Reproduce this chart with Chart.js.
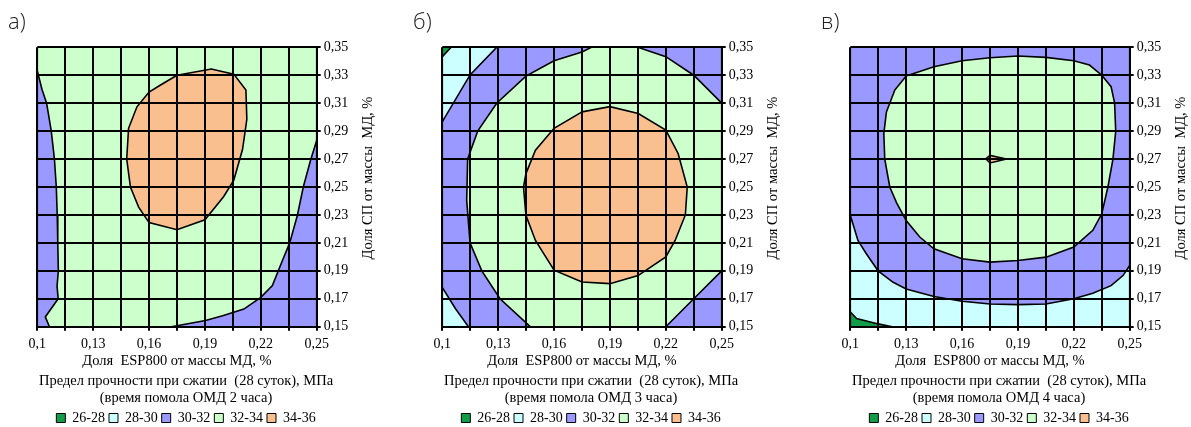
<!DOCTYPE html>
<html>
<head>
<meta charset="utf-8">
<script src="https://cdn.jsdelivr.net/npm/chart.js@4/dist/chart.umd.min.js"></script>
<style>
  html, body { margin: 0; padding: 0; background: #fff; }
  body { width: 1191px; height: 427px; position: relative; overflow: hidden; }
  .panel { position: absolute; top: 0; width: 378px; height: 427px; }
</style>
</head>
<body>
<div class="panel" style="left:0px"><canvas id="c0" width="378" height="427"></canvas></div>
<div class="panel" style="left:405px"><canvas id="c1" width="378" height="427"></canvas></div>
<div class="panel" style="left:813px"><canvas id="c2" width="378" height="427"></canvas></div>
<script>
// Strength bands (MPa) and their fill colours
const bands = ['26-28', '28-30', '30-32', '32-34', '34-36'];
const bandColors = ['#119c48', '#ccffff', '#9999ff', '#ccffcc', '#f9bf8f'];

// Axis ticks: ESP800 share (x) and SP share (y), % of binder mass
const xTickValues = [0.1, 0.115, 0.13, 0.145, 0.16, 0.175, 0.19, 0.205, 0.22, 0.235, 0.25];
const xTickLabels = ['0,1', '', '0,13', '', '0,16', '', '0,19', '', '0,22', '', '0,25'];
const yTickValues = [0.15, 0.17, 0.19, 0.21, 0.23, 0.25, 0.27, 0.29, 0.31, 0.33, 0.35];
const yTickLabels = ['0,15', '0,17', '0,19', '0,21', '0,23', '0,25', '0,27', '0,29', '0,31', '0,33', '0,35'];

// Whole plotting domain
const frame = [[0.1, 0.15], [0.1, 0.35], [0.25, 0.35], [0.25, 0.15]];

// Grinding 2 h: contour regions [ESP800, SP]
const a_left30 = [[0.1, 0.333], [0.1025, 0.32], [0.105, 0.31], [0.1075, 0.29], [0.1092, 0.27], [0.1102, 0.25],
  [0.1107, 0.23], [0.111, 0.21], [0.1113, 0.19], [0.1106, 0.179], [0.1112, 0.17], [0.1043, 0.157],
  [0.1065, 0.15], [0.1, 0.15]];
const a_right30 = [[0.172, 0.15], [0.1903, 0.1544], [0.1995, 0.1578], [0.2109, 0.1626], [0.22, 0.171],
  [0.2262, 0.1794], [0.2316, 0.1974], [0.2355, 0.21], [0.2396, 0.2296], [0.2428, 0.25], [0.2467, 0.2692],
  [0.25, 0.2834], [0.25, 0.15]];
const a_core34 = [[0.175, 0.33], [0.1934, 0.3345], [0.2055, 0.3308], [0.212, 0.3195], [0.2125, 0.2985],
  [0.2102, 0.277], [0.2055, 0.2548], [0.2, 0.243], [0.19, 0.2265], [0.175, 0.2194], [0.16, 0.2245],
  [0.1544, 0.2356], [0.15, 0.25], [0.148, 0.27], [0.149, 0.292], [0.1535, 0.3074], [0.16, 0.318], [0.1655, 0.3225]];

// Grinding 3 h
const b_corner28 = [[0.1, 0.35], [0.1292, 0.35], [0.1149, 0.3302], [0.1, 0.2967]];
const b_corner26 = [[0.1, 0.35], [0.1047, 0.35], [0.1, 0.3432]];
const b_foot28 = [[0.1, 0.15], [0.1, 0.178], [0.107, 0.163], [0.114, 0.15]];
const b_ring32 = [[0.175, 0.3466], [0.18, 0.35], [0.205, 0.35], [0.22, 0.3433], [0.235, 0.33], [0.25, 0.31],
  [0.25, 0.19], [0.235, 0.17], [0.22, 0.15], [0.1472, 0.15], [0.131, 0.17], [0.1212, 0.19], [0.1149, 0.21],
  [0.1131, 0.2404], [0.1136, 0.27], [0.119, 0.29], [0.1292, 0.31], [0.1449, 0.3294], [0.16, 0.3404]];
const b_core34 = [[0.175, 0.3038], [0.19, 0.3075], [0.2052, 0.3026], [0.22, 0.2907], [0.2266, 0.274],
  [0.2315, 0.25], [0.2305, 0.23], [0.225, 0.2117], [0.22, 0.2], [0.2051, 0.1866], [0.19, 0.1808],
  [0.175, 0.182], [0.16, 0.1905], [0.15, 0.2117], [0.1449, 0.2297], [0.1436, 0.25], [0.1449, 0.2596],
  [0.15, 0.2763], [0.16, 0.292]];

// Grinding 4 h
const c_foot28 = [[0.1, 0.15], [0.1, 0.2297], [0.1041, 0.2117], [0.1086, 0.2022], [0.1149, 0.19], [0.123, 0.1818],
  [0.13, 0.177], [0.1449, 0.1716], [0.16, 0.1682], [0.175, 0.1662], [0.19, 0.1658], [0.205, 0.1662],
  [0.22, 0.17], [0.2302, 0.174], [0.24, 0.1794], [0.2464, 0.1866], [0.25, 0.1938], [0.25, 0.15]];
const c_corner26 = [[0.1, 0.15], [0.1, 0.1605], [0.1034, 0.1558], [0.115, 0.152], [0.1222, 0.15]];
const c_core32 = [[0.13, 0.3294], [0.1449, 0.3361], [0.16, 0.3404], [0.175, 0.3425], [0.19, 0.3438], [0.205, 0.3428],
  [0.22, 0.3404], [0.2284, 0.3373], [0.235, 0.33], [0.24, 0.3218], [0.2419, 0.31], [0.2425, 0.29], [0.241, 0.27],
  [0.2383, 0.25], [0.235, 0.2308], [0.2302, 0.219], [0.22, 0.207], [0.2051, 0.1998], [0.19, 0.1974],
  [0.175, 0.1962], [0.16, 0.1986], [0.1449, 0.2058], [0.1373, 0.2142], [0.13, 0.226], [0.1248, 0.2388],
  [0.1212, 0.25], [0.1185, 0.27], [0.118, 0.2883], [0.1194, 0.3038], [0.1239, 0.3194]];
const c_peak34 = [[0.1727, 0.2702], [0.175, 0.2726], [0.1838, 0.27], [0.175, 0.2672]];

const panelLetters = ['а)', 'б)', 'в)'];
const grindHours = ['2 часа', '3 часа', '4 часа'];
// Regions listed bottom layer first: [band index, polygon]
const panelLayers = [
  [[3, frame], [2, a_left30], [2, a_right30], [4, a_core34]],
  [[2, frame], [1, b_corner28], [0, b_corner26], [1, b_foot28], [3, b_ring32], [4, b_core34]],
  [[2, frame], [1, c_foot28], [0, c_corner26], [3, c_core32], [4, c_peak34]]
];

const SERIF = "'Liberation Serif', 'Times New Roman', serif";

// Rotated title beside the right-hand axis, reading bottom to top
const sideTitle = {
  id: 'sideTitle',
  afterDraw(chart, args, opts) {
    const { ctx, chartArea } = chart;
    ctx.save();
    ctx.font = opts.font;
    ctx.fillStyle = '#000';
    ctx.textAlign = 'center';
    ctx.textBaseline = 'middle';
    ctx.translate(chartArea.right + opts.offset, (chartArea.top + chartArea.bottom) / 2 + opts.shift);
    ctx.rotate(-Math.PI / 2);
    ctx.fillText(opts.text, 0, 0);
    ctx.restore();
  }
};

function closed(poly) {
  const pts = poly.map(([x, y]) => ({ x, y }));
  pts.push({ x: poly[0][0], y: poly[0][1] });
  return pts;
}

panelLayers.forEach((layers, p) => {
  const n = layers.length;
  const datasets = layers.map(([band, poly], i) => ({
    label: bands[band],
    data: closed(poly),
    xAxisID: 'x',
    yAxisID: 'y',
    showLine: true,
    fill: 'shape',
    backgroundColor: bandColors[band],
    borderColor: '#000',
    borderWidth: 1.6,
    pointRadius: 0,
    tension: 0,
    order: n - i
  }));

  const gridStyle = { color: '#000', lineWidth: 2, tickLength: 4, tickColor: '#000', tickWidth: 2, z: 1 };

  new Chart(document.getElementById('c' + p), {
    type: 'scatter',
    data: { datasets },
    plugins: [sideTitle],
    options: {
      responsive: false,
      animation: false,
      events: [],
      layout: { padding: { left: 8, right: 14, top: 0, bottom: -8 } },
      scales: {
        x: {
          type: 'linear',
          min: 0.1, max: 0.25,
          afterBuildTicks: s => { s.ticks = xTickValues.map(v => ({ value: v })); },
          afterFit: s => { s.height = 43; },
          grid: gridStyle,
          border: { display: true, color: '#000', width: 2, z: 2 },
          ticks: {
            autoSkip: false, maxRotation: 0, padding: 5, color: '#000', z: 2,
            font: { family: SERIF, size: 14 },
            callback: (v, i) => xTickLabels[i]
          },
          title: {
            display: true, text: 'Доля  ESP800 от массы МД, %', color: '#000',
            font: { family: SERIF, size: 14.5, lineHeight: 1.2 }, padding: { top: 0, bottom: 0 }
          }
        },
        y: {
          type: 'linear',
          position: 'right',
          min: 0.15, max: 0.35,
          afterBuildTicks: s => { s.ticks = yTickValues.map(v => ({ value: v })); },
          afterFit: s => { s.width = 47.3; },
          grid: gridStyle,
          border: { display: true, color: '#000', width: 2, z: 2 },
          ticks: {
            autoSkip: false, padding: 3, color: '#000', z: 2,
            font: { family: SERIF, size: 14 },
            callback: (v, i) => yTickLabels[i]
          }
        },
        yl: {
          position: 'left',
          display: true,
          grid: { display: false },
          border: { display: false },
          ticks: { display: false },
          afterFit: s => { s.width = 29.3; }
        }
      },
      plugins: {
        tooltip: { enabled: false },
        subtitle: {
          display: true, position: 'top', align: 'start', text: panelLetters[p], color: '#222',
          font: { family: "'Open Sans', 'DejaVu Sans', sans-serif", size: 22, weight: '300', lineHeight: 1.2 },
          padding: { top: 10, bottom: 10.9 }
        },
        title: {
          display: true, position: 'bottom', weight: 10, color: '#000',
          text: ['Предел прочности при сжатии  (28 суток), МПа', '(время помола ОМД ' + grindHours[p] + ')'],
          font: { family: SERIF, size: 14.5, weight: 'normal', lineHeight: '17px' },
          padding: { top: 2.8, bottom: 0.5 }
        },
        legend: {
          display: true, position: 'bottom', onClick: null,
          labels: {
            boxWidth: 9, boxHeight: 9, padding: 4, color: '#000',
            font: { family: SERIF, size: 14 },
            generateLabels: () => bands.map((b, i) => ({
              text: b, fillStyle: bandColors[i], strokeStyle: '#000', lineWidth: 1, hidden: false
            }))
          }
        },
        sideTitle: { text: 'Доля СП от массы  МД, %', font: '14.5px ' + SERIF, offset: 51, shift: -9 }
      }
    }
  });
});
</script>
</body>
</html>
